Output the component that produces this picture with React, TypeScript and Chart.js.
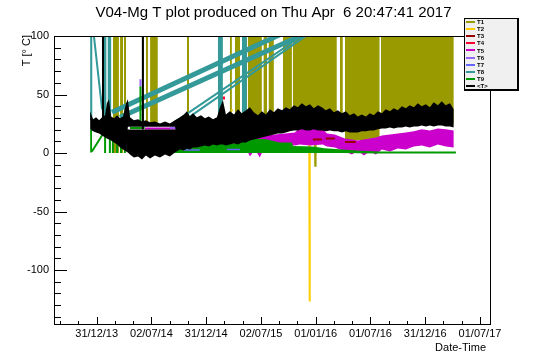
import React, { useEffect, useRef } from "react";
import { Chart, registerables } from "chart.js";

Chart.register(...registerables);

const FONT = "'Liberation Sans', Arial, Helvetica, sans-serif";
const TITLE = "V04-Mg T plot produced on Thu Apr  6 20:47:41 2017";
const X_TITLE = "Date-Time";
const Y_TITLE = "T [\u00b0 C]";

const SERIES_NAMES = ["T1", "T2", "T3", "T4", "T5", "T6", "T7", "T8", "T9", "<T>"];
const SERIES_COLORS = ["#999900", "#ffcc00", "#990000", "#ff0033", "#cc00cc", "#9966ff", "#6666ff", "#339999", "#009900", "#000000"];

// x = days since 31/12/13
const X_TICK_DAYS = [0, 182.6, 365.25, 547.9, 730.5, 913.1, 1095.75, 1278.4];
const X_TICK_LABELS = ["31/12/13", "02/07/14", "31/12/14", "02/07/15", "01/01/16", "01/07/16", "31/12/16", "01/07/17"];
const Y_TICKS = [-100, -50, 0, 50, 100];
const X_MIN = -142.4;
const X_MAX = 1315.1;
const Y_MIN = -147;
const Y_MAX = 100;
const OFF_SCALE = 104; // readings above the plotted range

// <T> (average) envelope
const avgDays = [-22, -12, -2, 8, 18, 28, 34, 41, 48, 58,
  68, 78, 88, 98, 104, 111, 124, 138, 151, 164,
  178, 194, 211, 228, 244, 261, 278, 291, 301, 311,
  321, 334, 348, 361, 374, 388, 401, 411, 421, 431,
  444, 458, 471, 484, 498, 511, 524, 538, 551, 564,
  578, 591, 604, 618, 631, 644, 658, 671, 684, 698,
  711, 724, 738, 751, 764, 778, 791, 804, 818, 831,
  844, 858, 871, 884, 898, 911, 924, 938, 951, 964,
  978, 991, 1004, 1018, 1031, 1044, 1058, 1071, 1084, 1098,
  1111, 1124, 1138, 1151, 1164, 1178, 1191];
const avgHigh = [35.6, 28.8, 30.5, 27.9, 30.5, 32.2, 42.5, 45.9, 31.3, 29.6,
  32.2, 29.6, 31.3, 42.5, 45.9, 30.5, 27.9, 28.8, 27.0, 27.9,
  26.2, 27.0, 25.3, 27.0, 25.3, 27.9, 30.5, 33.0, 35.6, 31.3,
  33.9, 30.5, 32.2, 29.6, 31.3, 28.8, 30.5, 39.1, 45.1, 33.0,
  35.6, 33.0, 37.3, 33.9, 36.5, 39.1, 34.8, 32.2, 35.6, 33.0,
  37.3, 34.8, 38.2, 36.5, 39.1, 37.3, 40.8, 39.1, 42.5, 40.0,
  41.6, 38.2, 40.8, 39.1, 36.5, 38.2, 34.8, 36.5, 33.9, 35.6,
  32.2, 33.9, 31.3, 33.0, 31.3, 33.9, 32.2, 35.6, 33.9, 37.3,
  35.6, 38.2, 36.5, 39.9, 38.2, 40.8, 39.1, 42.5, 39.9, 41.6,
  39.1, 43.3, 40.8, 44.2, 40.8, 42.5, 37.3];
const avgLow = [20.2, 18.5, 17.6, 16.7, 15.0, 13.3, 12.4, 11.6, 10.7, 9.0,
  7.3, 4.7, 3.0, 1.3, 22.5, 22.5, 22.5, 22.5, 22.5, 22.5,
  22.5, 22.5, 22.5, 22.5, 22.5, 22.5, 3.0, 2.1, 3.9, 3.0,
  4.7, 4.7, 5.6, 6.4, 5.6, 7.3, 6.4, 7.3, 7.3, 6.4,
  7.3, 8.2, 7.3, 9.0, 9.0, 10.7, 11.6, 12.4, 13.3, 14.2,
  15.0, 15.9, 16.7, 16.7, 17.6, 18.5, 19.3, 19.3, 20.2, 19.3,
  19.3, 20.2, 19.3, 19.3, 18.5, 19.3, 18.5, 18.5, 17.6, 18.5,
  17.6, 17.6, 17.6, 18.5, 18.5, 19.3, 19.3, 20.2, 21.0, 21.0,
  21.9, 21.0, 21.9, 21.9, 22.7, 21.9, 22.7, 22.7, 23.6, 22.7,
  23.6, 22.7, 23.6, 23.6, 22.7, 22.7, 21.9];
// lower cluster of <T> during early period
const avgLowerDays = [98, 104, 111, 124, 138, 151, 164, 178, 194, 211, 228, 244, 261, 278];
const avgLowerHigh = [20, 20, 20, 20, 20, 20, 20, 20, 20, 20, 20, 20, 20, 20];
const avgLowerLow = [1.3, 0.4, -1.3, -3.9, -3.0, -5.6, -2.1, -4.7, -2.1, -3.9, -1.3, -3.0, 0.4, 3.0];
const avgSpikeDays = [21, 21, 21, 154, 154];
const avgSpikeVals = [OFF_SCALE, 15, null, OFF_SCALE, 20];

// T1: periods where it swings from the low value up past the top of the scale
const t1Days = [54, 74, 74, 78, 88, 88, 91, 98, 98, 151, 158, 158, 164, 171, 171, 178, 204, 204,
  301, 308, 308, 444, 451, 451, 461, 478, 478, 488, 501, 501, 504, 530, 551, 551,
  556, 568, 568, 573, 591, 591, 621, 651, 651, 654, 700, 760, 801, 801, 811, 821, 821,
  828, 944, 944, 948, 1050, 1191];
const t1Low = [0, 0, null, 0, 0, null, 5, 5, null, 25, 25, null, 25, 25, null, 25, 25, null,
  25, 25, null, 30, 30, null, 30, 30, null, 14, 14, null, 14, 15, 16, null,
  17, 17, null, 18, 19, null, 20, 20, null, 22, 23, 22, 22, null, 21, 21, null,
  11, 11, null, 24, 25, 25];
const t1DipDays = [728, 729, 730];
const t1DipVals = [12, -11, 12];

// T2
const t2Days = [448, 454, 454, 709, 710, 711];
const t2Vals = [36.5, 36.5, null, 12, -127, 12];

// T3
const t3Days = [721, 751, 751, 764, 794, 794, 828, 864];
const t3Vals = [11.6, 11.6, null, 12.4, 12.4, null, 9.5, 9.5];

// T4
const t4Days = [411, 428];
const t4Vals = [47, 47];

// T5
const t5BandDays = [494, 511, 528, 544, 561, 594, 628, 661, 678, 711, 754, 768, 794, 828, 851, 871, 891, 911, 931, 951, 978, 1004, 1031, 1058, 1084, 1111, 1138, 1164, 1191];
const t5BandHigh = [12.4, 14.2, 13.3, 14.2, 15.0, 15.9, 16.7, 17.6, 21.9, 21.0, 20.2, 16.7, 15.9, 12.4, 11.6, 10.7, 11.6, 12.4, 13.3, 15.0, 15.9, 16.7, 17.6, 18.5, 20.2, 19.3, 21.0, 20.2, 19.3];
const t5BandLow = [6.4, -3.0, 3.0, -3.9, 5.6, 6.4, 7.3, 6.4, 7.3, 6.4, 7.3, 5.6, 4.7, 1.3, -1.3, 2.1, -2.1, 1.3, -1.3, 3.0, 1.3, 3.9, 3.0, 5.6, 6.4, 4.7, 7.3, 5.6, 4.7];
const t5Days = [161, 268, 268, 334, 401];
const t5Vals = [21, 21, null, 6.5, 6.5];

// T6, T7
const t6Days = [146, 146, 146, 244, 268];
const t6Vals = [57, 63, null, 21.5, 21.5];
const t7Days = [288, 344, 344, 434, 478];
const t7Vals = [2.5, 2.5, null, 3, 3];

// T8
const t8StripeDays = [-22, -14, -14, 24, 33, 33, 36, 49, 49, 404, 421, 421, 484, 501, 501];
const t8StripeLow = [28, 28, null, 25, 25, null, 25, 25, null, 33, 33, null, 31, 31, null];
const t8WideDays = [51, 635, 635, 78, 713];
const t8WideVals = [34.8, OFF_SCALE, null, 30.5, OFF_SCALE];
const t8ThinDays = [-11, 18, 18, 244, 707, 707, 264, 720];
const t8ThinVals = [OFF_SCALE, 37.3, null, 23.6, OFF_SCALE, null, 22.7, OFF_SCALE];

// T9
const t9BandDays = [-22, -15, -15, 161, 228, 294, 344, 378, 411, 428, 478, 511, 561, 611, 651, 655, 720, 760, 820, 880, 944, 1198];
const t9BandHigh = [20, 20, null, 3, 4, 6, 8, 14, 14, 7, 9, 12, 12, 9, 9, 6, 5.5, 4, 3, 2, 1.3, 1.3];
const t9BandLow = [0.4, 0.4, null, 0, 0, 0, 0, 0, 0, 0, 0, 0, 0, 0, 0, 0, 0, 0, 0, -0.3, -0.5, -0.5];
const t9Days = [-16, 24, 24, 28, 28, 28, 44, 44, 44, 54, 54, 54, 68, 68, 68, 81, 81, 81, 94, 94, 94, 111, 160, 160, 118, 118, 118, 134, 134, 134, 146, 146];
const t9Vals = [1.3, 17.6, null, 18, 0, null, 18, 0, null, 18, 0, null, 18, 0, null, 18, 0, null, 18, 0, null, 21.3, 21.3, null, 18, 0, null, 18, 0, null, 26, 57];

const pts = (days: number[], vals: (number | null)[]) => days.map((d, i) => ({ x: d, y: vals[i] }));
const ceilingOf = (vals: (number | null)[]) => vals.map((v) => (v === null ? null : OFF_SCALE));

function buildDatasets() {
  const ds: any[] = [];
  const line = (label: string, color: string, data: any[], width: number) => {
    ds.push({ label, data, borderColor: color, backgroundColor: color, borderWidth: width, pointRadius: 0, fill: false, spanGaps: false, clip: 0, borderCapStyle: "butt", borderJoinStyle: "miter" });
  };
  const band = (label: string, color: string, lo: any[], hi: any[]) => {
    const loIndex = ds.length;
    ds.push({ label: label + "_lo", data: lo, borderColor: "rgba(0,0,0,0)", backgroundColor: "rgba(0,0,0,0)", borderWidth: 0, pointRadius: 0, fill: false, spanGaps: false, clip: 0 });
    ds.push({ label, data: hi, borderColor: "rgba(0,0,0,0)", backgroundColor: color, borderWidth: 0, pointRadius: 0, fill: loIndex, spanGaps: false, clip: 0 });
  };
  const C = SERIES_COLORS;
  band("T1", C[0], pts(t1Days, t1Low), pts(t1Days, ceilingOf(t1Low)));
  line("T1", C[0], pts(t1DipDays, t1DipVals), 2);
  line("T2", C[1], pts(t2Days, t2Vals), 2);
  band("T5", C[4], pts(t5BandDays, t5BandLow), pts(t5BandDays, t5BandHigh));
  line("T5", C[4], pts(t5Days, t5Vals), 2);
  line("T3", C[2], pts(t3Days, t3Vals), 2);
  line("T4", C[3], pts(t4Days, t4Vals), 3);
  band("T8", C[7], pts(t8StripeDays, t8StripeLow), pts(t8StripeDays, ceilingOf(t8StripeLow)));
  line("T8", C[7], pts(t8WideDays, t8WideVals), 5);
  line("T8", C[7], pts(t8ThinDays, t8ThinVals), 2);
  band("T9", C[8], pts(t9BandDays, t9BandLow), pts(t9BandDays, t9BandHigh));
  line("T9", C[8], pts(t9Days, t9Vals), 2);
  line("T6", C[5], pts(t6Days, t6Vals), 2);
  line("T7", C[6], pts(t7Days, t7Vals), 1.5);
  band("<T>", C[9], pts(avgDays, avgLow), pts(avgDays, avgHigh));
  band("<T>", C[9], pts(avgLowerDays, avgLowerLow), pts(avgLowerDays, avgLowerHigh));
  line("<T>", C[9], pts(avgSpikeDays, avgSpikeVals), 2);
  const n = ds.length;
  ds.forEach((d, i) => (d.order = n - i));
  return ds;
}

const decor = {
  id: "rootDecor",
  afterDatasetsDraw(chart: any) {
    const { ctx, chartArea: a, scales } = chart;
    const xs = scales.x;
    const ys = scales.y;
    ctx.save();
    ctx.strokeStyle = "#000";
    ctx.lineWidth = 1;
    ctx.strokeRect(a.left + 0.5, a.top + 0.5, a.right - a.left - 1, a.bottom - a.top - 1);
    ctx.beginPath();
    for (let v = -140; v <= 100; v += 10) {
      const py = Math.round(ys.getPixelForValue(v)) + 0.5;
      const len = v % 50 === 0 ? 13 : 7;
      ctx.moveTo(a.left, py);
      ctx.lineTo(a.left + len, py);
    }
    const step = (X_TICK_DAYS[X_TICK_DAYS.length - 1] - X_TICK_DAYS[0]) / ((X_TICK_DAYS.length - 1) * 3);
    for (let j = -3; j <= 25; j++) {
      const d = X_TICK_DAYS[0] + j * step;
      if (d < X_MIN || d > X_MAX) continue;
      const px = Math.round(xs.getPixelForValue(d)) + 0.5;
      const len = j % 3 === 0 ? 8 : 4;
      ctx.moveTo(px, a.bottom);
      ctx.lineTo(px, a.bottom - len);
    }
    ctx.stroke();
    ctx.restore();
  },
  afterDraw(chart: any) {
    const { ctx } = chart;
    ctx.save();
    ctx.fillStyle = "#000";
    ctx.font = `15px ${FONT}`;
    ctx.textAlign = "center";
    ctx.textBaseline = "alphabetic";
    ctx.fillText(TITLE, 273.5, 17);

    ctx.font = `11px ${FONT}`;
    ctx.textAlign = "right";
    ctx.fillText(X_TITLE, 486, 351);

    ctx.save();
    ctx.translate(30, 35);
    ctx.rotate(-Math.PI / 2);
    ctx.textAlign = "right";
    ctx.fillText(Y_TITLE, 0, 0);
    ctx.restore();

    // legend box
    ctx.fillStyle = "#f0f0f0";
    ctx.fillRect(464, 18, 55, 73);
    ctx.fillStyle = "#000";
    ctx.fillRect(464, 18, 55, 1);
    ctx.fillRect(464, 18, 1, 73);
    ctx.fillRect(517, 18, 2, 73);
    ctx.fillRect(464, 89, 55, 2);
    ctx.font = `bold 6px ${FONT}`;
    ctx.textAlign = "left";
    ctx.textBaseline = "middle";
    for (let i = 0; i < SERIES_NAMES.length; i++) {
      const y = 21.8 + i * 7.14;
      ctx.fillStyle = SERIES_COLORS[i];
      ctx.fillRect(466, Math.round(y) - 1, 9, 2);
      ctx.fillStyle = "#000";
      ctx.fillText(SERIES_NAMES[i], 477, y + 0.5);
    }
    ctx.restore();
  },
};

export default function App() {
  const ref = useRef<HTMLCanvasElement | null>(null);
  useEffect(() => {
    document.body.style.margin = "0";
    Chart.defaults.font.family = FONT;
    Chart.defaults.color = "#000";
    const canvas = ref.current;
    if (!canvas) return;
    const chart = new Chart(canvas, {
      type: "line",
      data: { datasets: buildDatasets() },
      options: {
        responsive: false,
        animation: false,
        devicePixelRatio: 1,
        events: [],
        parsing: false,
        normalized: false,
        layout: { padding: { top: 36, right: 55, bottom: 0, left: 0 } },
        plugins: { legend: { display: false }, title: { display: false }, tooltip: { enabled: false } },
        elements: { point: { radius: 0 }, line: { tension: 0 } },
        scales: {
          x: {
            type: "linear",
            min: X_MIN,
            max: X_MAX,
            grid: { display: false, drawTicks: false },
            border: { display: false },
            ticks: {
              padding: 2,
              font: { size: 11, family: FONT },
              color: "#000",
              maxRotation: 0,
              autoSkip: false,
              callback: (_v: any, i: number) => X_TICK_LABELS[i],
            },
            afterBuildTicks: (s: any) => {
              s.ticks = X_TICK_DAYS.map((v) => ({ value: v }));
            },
            afterFit: (s: any) => {
              s.height = 37;
            },
          },
          y: {
            type: "linear",
            min: Y_MIN,
            max: Y_MAX,
            grid: { display: false, drawTicks: false },
            border: { display: false },
            ticks: {
              padding: 5,
              font: { size: 11, family: FONT },
              color: "#000",
              autoSkip: false,
              callback: (v: any) => String(v),
            },
            afterBuildTicks: (s: any) => {
              s.ticks = Y_TICKS.map((v) => ({ value: v }));
            },
            afterFit: (s: any) => {
              s.width = 54;
            },
          },
        },
      } as any,
      plugins: [decor],
    });
    return () => chart.destroy();
  }, []);
  return <canvas ref={ref} width={546} height={362} style={{ display: "block" }} />;
}
